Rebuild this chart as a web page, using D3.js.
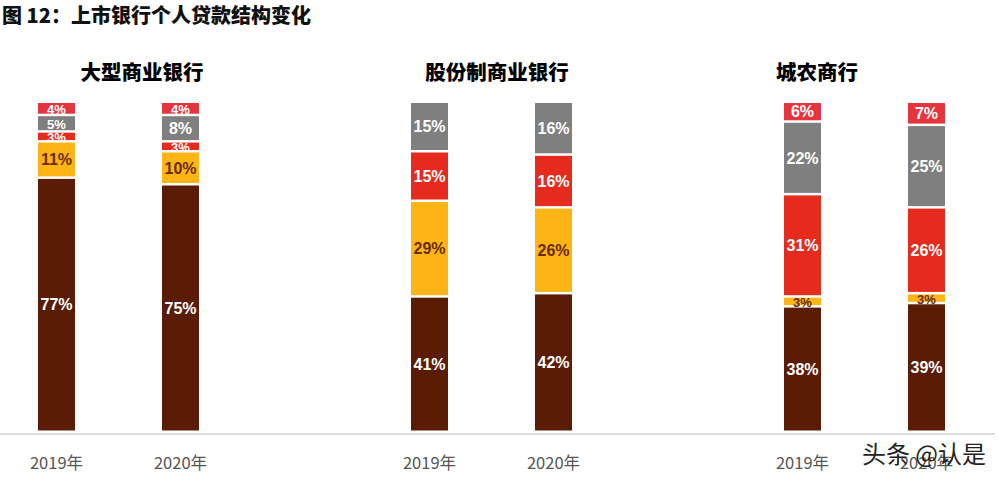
<!DOCTYPE html>
<html><head><meta charset="utf-8">
<script src="https://cdn.jsdelivr.net/npm/d3@7"></script>
<style>
html,body{margin:0;padding:0;background:#fff;}
svg{display:block;font-family:"Noto Sans CJK SC","Noto Sans",sans-serif;}
</style></head>
<body><svg id="c" width="998" height="482"></svg>
<script>
// ---- data ----
const chartTitle = "图 12：上市银行个人贷款结构变化";
const groups = ["大型商业银行", "股份制商业银行", "城农商行"];
const years = ["2019年", "2020年"];
const seriesKeys = ["s1", "s2", "s3", "s4", "s5"]; // bottom -> top
const s1 = [77, 75, 41, 42, 38, 39];   // brown
const s2 = [11, 10, 29, 26, 3, 3];     // yellow
const s3 = [3, 3, 15, 16, 31, 26];     // red
const s4 = [5, 8, 15, 16, 22, 25];     // gray
const s5 = [4, 4, 0, 0, 6, 7];         // top red
const watermark = "头条 @认是";

// ---- styles / layout ----
const colors = {s1:"#5A1C05", s2:"#FDB515", s3:"#E52A1E", s4:"#7F7F7F", s5:"#E6343F"};
const labelColors = {s1:"#fff", s2:"#6b2a0a", s3:"#fff", s4:"#fff", s5:"#fff"};
const titleCenters = [142, 497, 817];
const W = 998, H = 482, baseY = 433, topY = 103;

const rows = [];
groups.forEach((g, gi) => years.forEach((y, yi) => {
  const i = gi * 2 + yi;
  rows.push({group: g, year: y, s1: s1[i], s2: s2[i], s3: s3[i], s4: s4[i], s5: s5[i]});
}));

const svg = d3.select("#c");
const yScale = d3.scaleLinear().domain([0, 100]).range([baseY, topY]);
const x0 = d3.scaleBand().domain(groups).range([-67.5, 1051.5]);
const bw0 = x0.bandwidth();
const x1 = d3.scalePoint().domain(years).range([bw0 / 2 - 62.5, bw0 / 2 + 61.5]);
const barW = 37;
const xc = d => x0(d.group) + x1(d.year);

const stack = d3.stack().keys(seriesKeys)(rows);

// title
svg.append("text").attr("x", 2).attr("y", 23).attr("font-size", 20).attr("font-weight", 900)
  .attr("fill", "#111").text(chartTitle);

// group titles
svg.selectAll(".gt").data(groups).join("text")
  .attr("x", (d, i) => titleCenters[i]).attr("y", 80).attr("text-anchor", "middle")
  .attr("font-size", 20.5).attr("font-weight", 900).attr("fill", "#000").text(d => d);

// baseline
svg.append("line").attr("x1", 0).attr("x2", 995).attr("y1", baseY + 1).attr("y2", baseY + 1)
  .attr("stroke", "#dcdcdc").attr("stroke-width", 2);

// bars
const layer = svg.selectAll(".layer").data(stack).join("g").attr("fill", d => colors[d.key]);
layer.selectAll("rect").data(d => d.filter(p => p[1] - p[0] > 0)).join("rect")
  .attr("x", p => xc(p.data) - barW / 2)
  .attr("width", barW)
  .attr("y", p => yScale(p[1]))
  .attr("height", p => Math.max(0, yScale(p[0]) - yScale(p[1]) - 2.5));

// labels
stack.forEach(s => {
  svg.append("g").selectAll("text").data(s.filter(p => p[1] - p[0] > 0)).join("text")
    .attr("x", p => xc(p.data))
    .attr("y", p => (yScale(p[0]) + yScale(p[1])) / 2 + 4.5)
    .attr("text-anchor", "middle")
    .attr("font-family", "'Liberation Sans', Arial, sans-serif")
    .attr("font-size", p => (p[1] - p[0]) < 6 ? 13 : 16).attr("font-weight", 700)
    .attr("fill", labelColors[s.key])
    .text(p => (p[1] - p[0]) + "%");
});

// x labels
svg.selectAll(".xl").data(rows).join("text")
  .attr("x", d => xc(d)).attr("y", 469).attr("text-anchor", "middle")
  .attr("font-size", 16.5).attr("fill", "#555").text(d => d.year);

// watermark
svg.append("text").attr("x", 986).attr("y", 463).attr("text-anchor", "end")
  .attr("font-size", 24).attr("fill", "#222").text(watermark);
</script></body></html>
